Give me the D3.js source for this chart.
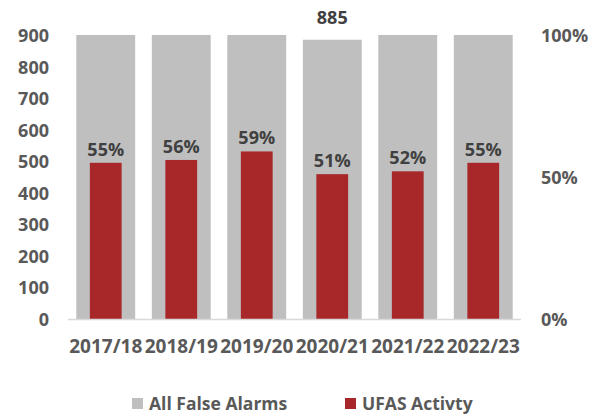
<!DOCTYPE html>
<html>
<head>
<meta charset="utf-8">
<script src="https://cdn.jsdelivr.net/npm/d3@7"></script>
<style>
  body { margin: 0; background: #fff; }
  text { font-family: "Open Sans", Lato, sans-serif; font-weight: 700; fill: #595959; }
</style>
</head>
<body>
<svg id="chart" width="602" height="416"></svg>
<script>
// Financial years
const years = ["2017/18", "2018/19", "2019/20", "2020/21", "2021/22", "2022/23"];
// All false alarms (left axis); the axis tops out at 900, so taller bars are cut at the frame
const allFalseAlarms = [960, 980, 1010, 885, 1030, 1000];
// Share of false alarms that were UFAS (right axis)
const ufasShare = [0.55, 0.56, 0.59, 0.51, 0.52, 0.55];
// Tick values
const leftTicks = [0, 100, 200, 300, 400, 500, 600, 700, 800, 900];
const rightTicks = [0, 0.5, 1];
// Only values that fit under the axis maximum get a value label
const labelledAlarms = [885];

const svg = d3.select("#chart");
const margin = { left: 68, right: 81, top: 35, bottom: 97 };
const W = 602, H = 416;
const x0 = margin.left, x1 = W - margin.right;
const y0 = H - margin.bottom, y1 = margin.top;

const x = d3.scaleBand().domain(years).range([x0, x1]).paddingInner(0.22).paddingOuter(0.11);
const yLeft = d3.scaleLinear().domain([0, 900]).range([y0, y1]);
const yRight = d3.scaleLinear().domain([0, 1]).range([y0, y1]);

const gray = "#BFBFBF", red = "#A8282A";
const axisInk = "#595959", labelInk = "#404040";

// Gray bars, clipped at the axis maximum
svg.append("g").selectAll("rect").data(years).join("rect")
  .attr("x", d => x(d))
  .attr("width", x.bandwidth())
  .attr("y", (d, i) => yLeft(Math.min(allFalseAlarms[i], 900)))
  .attr("height", (d, i) => y0 - yLeft(Math.min(allFalseAlarms[i], 900)))
  .attr("fill", gray);

// Red bars on the percentage axis
const redW = x.bandwidth() * 0.54;
svg.append("g").selectAll("rect").data(years).join("rect")
  .attr("x", d => x(d) + (x.bandwidth() - redW) / 2)
  .attr("width", redW)
  .attr("y", (d, i) => yRight(ufasShare[i]))
  .attr("height", (d, i) => y0 - yRight(ufasShare[i]))
  .attr("fill", red);

// Baseline
svg.append("line")
  .attr("x1", x0).attr("x2", x1)
  .attr("y1", y0 + 0.5).attr("y2", y0 + 0.5)
  .attr("stroke", "#D9D9D9").attr("stroke-width", 1.5);

// Left axis
const leftAxis = d3.axisLeft(yLeft).tickValues(leftTicks).tickSize(0).tickPadding(0);
const gl = svg.append("g").attr("transform", `translate(${49},0)`).call(leftAxis);
gl.select(".domain").remove();
gl.selectAll("text").attr("font-size", 18).attr("fill", axisInk)
  .attr("font-family", null).attr("dy", "0.36em");

// Right axis
const rightAxis = d3.axisRight(yRight).tickValues(rightTicks).tickSize(0).tickPadding(0)
  .tickFormat(d3.format(".0%"));
const gr = svg.append("g").attr("transform", `translate(${541},0)`).call(rightAxis);
gr.select(".domain").remove();
gr.selectAll("text").attr("font-size", 18).attr("fill", axisInk)
  .attr("font-family", null).attr("dy", "0.36em");

// Category axis
const bottomAxis = d3.axisBottom(x).tickSize(0).tickPadding(0);
const gb = svg.append("g").attr("transform", `translate(0,${y0})`).call(bottomAxis);
gb.select(".domain").remove();
gb.selectAll("text").attr("font-size", 19).attr("fill", axisInk)
  .attr("font-family", null).attr("dy", null).attr("y", 34);

// Percentage labels above the red bars
svg.append("g").selectAll("text").data(years).join("text")
  .attr("x", d => x(d) + x.bandwidth() / 2)
  .attr("y", (d, i) => yRight(ufasShare[i]) - 7)
  .attr("text-anchor", "middle")
  .attr("font-size", 18)
  .style("fill", labelInk)
  .text((d, i) => d3.format(".0%")(ufasShare[i]));

// Value label for the gray bar that fits inside the axis range
svg.append("g").selectAll("text")
  .data(years.filter((d, i) => labelledAlarms.includes(allFalseAlarms[i])))
  .join("text")
  .attr("x", d => x(d) + x.bandwidth() / 2)
  .attr("y", d => yLeft(allFalseAlarms[years.indexOf(d)]) - 16)
  .attr("text-anchor", "middle")
  .attr("font-size", 18)
  .style("fill", labelInk)
  .text(d => allFalseAlarms[years.indexOf(d)]);

// Legend
const legend = [
  { name: "All False Alarms", color: gray, x: 132 },
  { name: "UFAS Activty", color: red, x: 345 }
];
const lg = svg.append("g").selectAll("g").data(legend).join("g")
  .attr("transform", d => `translate(${d.x},398)`);
lg.append("rect").attr("width", 11).attr("height", 11).attr("fill", d => d.color);
lg.append("text").attr("x", 17).attr("y", 11.5).attr("font-size", 17.5).text(d => d.name);
</script>
</body>
</html>
